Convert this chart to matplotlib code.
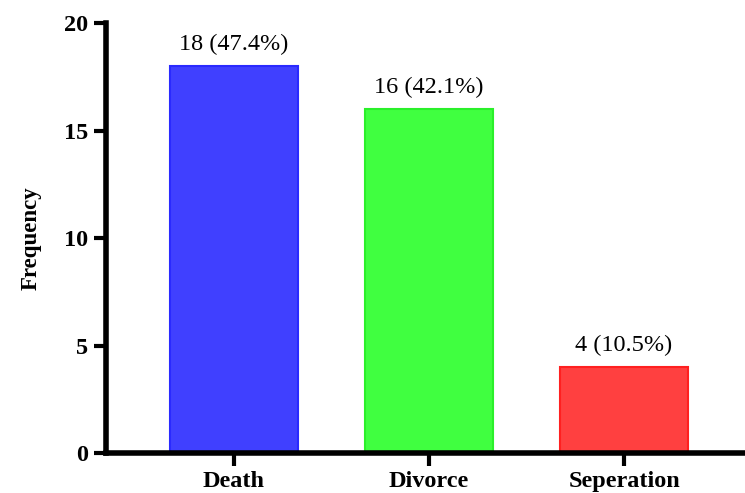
import matplotlib.pyplot as plt

plt.rcParams['font.family'] = ['Liberation Serif', 'DejaVu Serif']

# Datos
categorias = ['Death', 'Divorce', 'Seperation']
frecuencia = [18, 16, 4]
colores = ['#4040ff', '#40ff40', '#ff4040']
bordes = ['#2a2aff', '#2af02a', '#ff2020']

total = sum(frecuencia)
etiquetas = [f'{v} ({v / total * 100:.1f}%)' for v in frecuencia]

fig = plt.figure(figsize=(7.45, 4.93), dpi=100)
ax = fig.add_axes([0.1423, 0.0811, 0.8577, 0.8722])

x = range(len(categorias))
bars = ax.bar(x, frecuencia, width=0.656, color=colores, edgecolor=bordes, linewidth=1.5)

for b, txt in zip(bars, etiquetas):
    ax.text(b.get_x() + b.get_width() / 2, b.get_height() + 0.5, txt,
            ha='center', va='bottom', fontsize=17.5)

ax.set_xlim(-0.656, 2.62)
ax.set_ylim(0, 20)
ax.set_yticks([0, 5, 10, 15, 20])
ax.set_xticks(list(x))
ax.set_xticklabels(categorias, fontsize=17.5, fontweight='bold')
for lab in ax.get_yticklabels():
    lab.set_fontsize(17.5)
    lab.set_fontweight('bold')

ax.set_ylabel('Frequency', fontsize=16.5, fontweight='bold', labelpad=16)

for s in ['top', 'right']:
    ax.spines[s].set_visible(False)
for s in ['left', 'bottom']:
    ax.spines[s].set_linewidth(4)
ax.spines['left'].set_bounds(0, 20)
ax.tick_params(axis='both', width=3, length=9, direction='out', pad=4)

plt.savefig('out.png', dpi=100)
